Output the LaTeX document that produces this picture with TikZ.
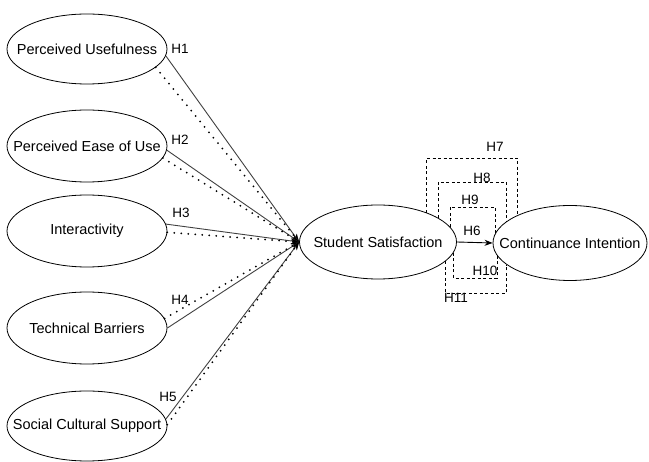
\documentclass[tikz,border=0pt]{standalone}
\usepackage{fontspec}
\setmainfont{Liberation Sans}
\usetikzlibrary{shapes.geometric,arrows.meta}
\tikzset{
  construct/.style={ellipse,draw,line width=0.8pt,minimum width=160pt,minimum height=72pt,inner sep=0pt,
    font=\fontsize{14.5}{17}\selectfont,
    execute at begin node=\hbox to 0pt\bgroup\hss, execute at end node=\hss\egroup},
  hlabel/.style={inner sep=0pt,font=\fontsize{13.5}{16}\selectfont},
  tip/.style={-{Stealth[length=8pt,width=6pt]}},
  direct/.style={draw=black!75,line width=0.9pt,tip},
  dotline/.style={line width=2pt,dash pattern=on 0pt off 7pt,line cap=round,tip},
  mediate/.style={line width=0.8pt,dash pattern=on 3pt off 2.5pt}
}
\begin{document}
\begin{tikzpicture}[x=1pt,y=-1pt]
    \path[use as bounding box] (0,0) rectangle (649,462);
    \node [construct,minimum height=70pt] (pu) at (87,49) {Perceived Usefulness};
    \node [construct] (peou) at (87,146) {Perceived Ease of Use};
    \node [construct] (ia) at (87,231) {Interactivity};
    \node [construct] (tb) at (87,328) {Technical Barriers};
    \node [construct,minimum height=70pt] (scs) at (87,426) {Social Cultural Support};
    \node [construct,minimum width=157pt,minimum height=74pt] (ss) at (378,242) {Student Satisfaction};
    \node [construct,minimum width=154pt,minimum height=75pt] (ci) at (570,243) {Continuance Intention};
    \draw [direct] (pu.-5) -- (ss.west);
    \draw [dotline] (pu.-15) -- (ss.west);
    \draw [direct] (peou.-3) -- (ss.west);
    \draw [dotline] (peou.-9) -- (ss.west);
    \draw [direct] (ia.5) -- (ss.west);
    \draw [dotline] (ia.-1) -- (ss.west);
    \draw [direct] (tb.0) -- (ss.west);
    \draw [dotline] (tb.7) -- (ss.west);
    \draw [direct] (scs.5) -- (ss.west);
    \draw [dotline] (scs.1) -- (ss.west);
    \draw [direct,draw=black] (ss.east) -- (ci.west);
    \draw [mediate] (ss.31) |- (ci.152 |- 0,158) -- (ci.152);
    \draw [mediate] (ss.22) |- (ci.161 |- 0,182) -- (ci.161);
    \draw [mediate] (ss.12) |- (ci.173 |- 0,207) -- (ci.173);
    \draw [mediate] (ss.-8) |- (ci.-170 |- 0,278) -- (ci.-170);
    \draw [mediate] (ss.-16) |- (ci.-161 |- 0,293) -- (ci.-161);
    \node [hlabel] (h1) at (180,49) {H1};
    \node [hlabel] (h2) at (180,140) {H2};
    \node [hlabel] (h3) at (181,213) {H3};
    \node [hlabel] (h4) at (180,300) {H4};
    \node [hlabel] (h5) at (168,397) {H5};
    \node [hlabel] (h6) at (472,231) {H6};
    \node [hlabel] (h7) at (495,147) {H7};
    \node [hlabel] (h8) at (482,178) {H8};
    \node [hlabel] (h9) at (470,200) {H9};
    \node [hlabel] (h10) at (485,271) {H10};
    \node [hlabel] (h11) at (456,298) {H11};
\end{tikzpicture}
\end{document}
